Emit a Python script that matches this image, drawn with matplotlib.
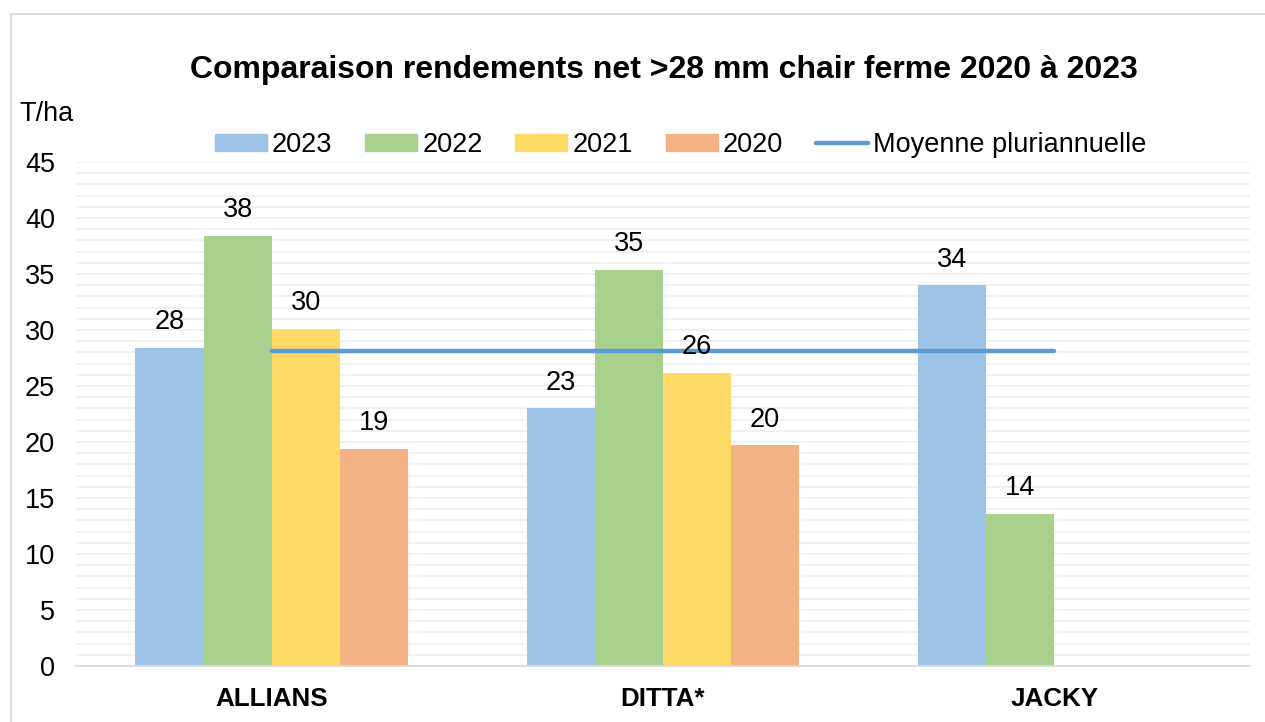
import numpy as np
import matplotlib
matplotlib.use("Agg")
import matplotlib.pyplot as plt
import matplotlib.patches as mpatches
from matplotlib.lines import Line2D

plt.rcParams['font.family'] = ['Liberation Sans', 'DejaVu Sans']

# données
varietes = ["ALLIANS", "DITTA*", "JACKY"]
annees = ["2023", "2022", "2021", "2020"]
r2023 = [28.4, 23.0, 34.0]
r2022 = [38.4, 35.4, 13.6]
r2021 = [30.1, 26.2, None]
r2020 = [19.4, 19.7, None]
moyenne = 28.1

couleurs = ["#9DC3E6", "#A9D18E", "#FFD966", "#F4B183"]
couleur_moy = "#5B9BD5"
fs = 19.5

fig = plt.figure(figsize=(12.65, 7.22), dpi=100)
ax = fig.add_axes([76 / 1265, 1 - 666 / 722, (1250 - 76) / 1265, (666 - 162) / 722])

# cadre du graphique
fig.patches.append(mpatches.Rectangle((11 / 1265, -0.1), 1.2, 1 - 14 / 722 + 0.1,
                                      transform=fig.transFigure, fill=False,
                                      edgecolor="#D9D9D9", lw=1.5))

x = np.arange(len(varietes))
w = 0.174
series = [r2023, r2022, r2021, r2020]
for i, (vals, c, lab) in enumerate(zip(series, couleurs, annees)):
    xs = [x[j] + (i - 1.5) * w for j in range(len(vals)) if vals[j] is not None]
    hs = [v for v in vals if v is not None]
    bars = ax.bar(xs, hs, width=w, color=c, label=lab, zorder=2)
    txts = ax.bar_label(bars, fmt="%.0f", padding=9, fontsize=fs)
    for t in txts:
        t.set_zorder(5)

ax.plot([x[0], x[-1]], [moyenne, moyenne], color=couleur_moy, lw=3.2,
        solid_capstyle="round", zorder=3)

ax.set_ylim(0, 45)
ax.set_xlim(-0.5, 2.5)
ax.set_yticks(np.arange(0, 46, 5))
ax.set_yticks(np.arange(0, 46, 1), minor=True)
ax.grid(axis="y", which="both", color="#EFEFEF", lw=1.3, zorder=0)
ax.set_axisbelow(True)
ax.tick_params(axis="y", which="both", length=0, labelsize=fs, pad=15)
ax.tick_params(axis="x", length=0, pad=15)
ax.set_xticks(x)
ax.set_xticklabels(varietes, fontsize=18.7, fontweight="bold")
for s in ["top", "right", "left"]:
    ax.spines[s].set_visible(False)
ax.spines["bottom"].set_color("#D9D9D9")
ax.spines["bottom"].set_linewidth(1.3)

fig.text(0.525, 1 - 70 / 722, "Comparaison rendements net >28 mm chair ferme 2020 à 2023",
         ha="center", va="center", fontsize=23, fontweight="bold")
fig.text(19 / 1265, 1 - 114 / 722, "T/ha", ha="left", va="center", fontsize=fs)

handles = [mpatches.Patch(color=c, label=a) for c, a in zip(couleurs, annees)]
handles.append(Line2D([0], [0], color=couleur_moy, lw=3.2, solid_capstyle="round",
                      label="Moyenne pluriannuelle"))
fig.legend(handles=handles, loc="center", bbox_to_anchor=(0.538, 1 - 145 / 722),
           ncol=5, frameon=False, fontsize=fs, handlelength=1.92, handleheight=0.55,
           handletextpad=0.2, columnspacing=1.2)

fig.savefig("out.png", dpi=100)
